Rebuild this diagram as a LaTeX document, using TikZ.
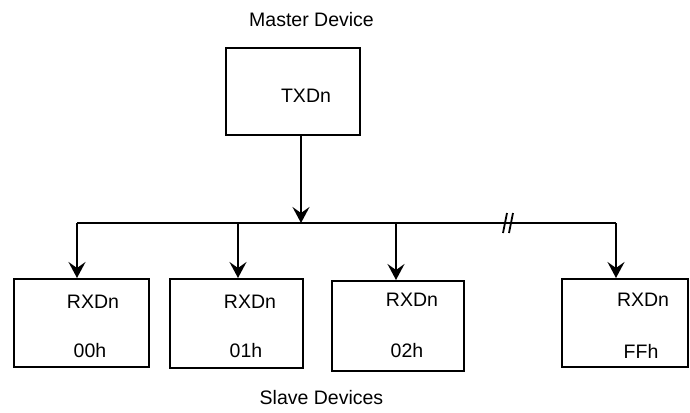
\documentclass[tikz,border=0pt]{standalone}
\usepackage{fontspec}
\setmainfont{Liberation Sans}
\newfontfamily\devfont{Liberation Sans}
\usetikzlibrary{arrows.meta}
\colorlet{busLine}{black}
\colorlet{boxLine}{black}

\begin{document}
\begin{tikzpicture}[
  x=1pt,
  y=-1pt,
  every node/.style={
    font=\devfont\fontsize{19.5}{23}\selectfont,
  },
  device box/.style={
    draw=boxLine,
    line width=2pt,
    inner sep=0pt,
  },
  bus line/.style={
    draw=busLine,
    line width=2pt,
  },
  bus arrow/.style={
    -{Stealth[length=16pt,width=17pt,inset=6pt]},
  }
]
\useasboundingbox (0,0) rectangle (690,412);
\node[device box,minimum width=134pt,minimum height=87pt] (master) at (293,91.5) {};
\node (masterName) at (311.5,20) {Master Device};
\node (txd) at (306,95.5) {TXDn};
\coordinate (busIn) at (301,223);
\draw[bus line,bus arrow] (master.south -| busIn) -- (busIn);
\foreach \k/\xl/\xr/\yt/\yb/\xd/\xn/\yn/\xa/\addr in {
  0/14/149/279/367/77/93/302/90/00h,
  1/170/303/279/368/238/250/302/246/01h,
  2/332/464/281/371/396/412/300/407/02h,
  3/562/688/279/367/616/643/300/641/FFh} {
  \node[device box,minimum width={(\xr-\xl)*1pt},minimum height={(\yb-\yt)*1pt}]
    (slave\k) at ({(\xl+\xr)/2},{(\yt+\yb)/2}) {};
  \node (rxd\k) at (\xn,\yn) {RXDn};
  \node (addr\k) at (\xa,351) {\addr};
  \coordinate (drop\k) at (\xd,223);
  \draw[bus line,bus arrow] (drop\k) -- (drop\k |- slave\k.north);
}
\draw[bus line] (drop0) -- (drop3);
\coordinate (brk) at (508,223);
\draw[bus line,line width=1.8pt] ([shift={(-5,10)}]brk) -- ([shift={(-1,-10)}]brk);
\draw[bus line,line width=1.8pt] ([shift={(1,10)}]brk) -- ([shift={(5,-10)}]brk);
\node (slaveName) at (321.5,398) {Slave Devices};
%\node at (345,206) {};
\end{tikzpicture}
\end{document}
